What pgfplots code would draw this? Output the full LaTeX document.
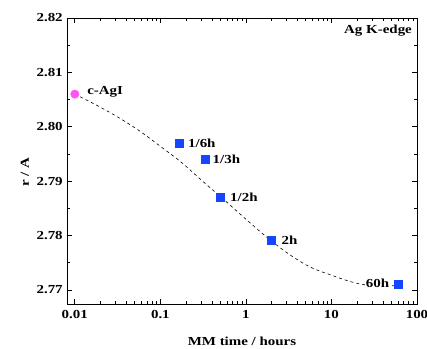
\documentclass[border=0pt]{standalone}
\usepackage{fontspec}
\setmainfont{Liberation Serif}
\usepackage{pgfplots}
\pgfplotsset{compat=1.18}
\definecolor{mblue}{RGB}{20,70,255}
\definecolor{mpink}{RGB}{255,85,240}
\newcommand{\lf}{\fontsize{12.3}{14}\selectfont\bfseries}
\begin{document}
\begin{tikzpicture}
\begin{axis}[at={(0,0)}, anchor=south west, scale only axis,
  width=350bp, height=286bp,
  xmode=log, xmin=0.0081, xmax=100, ymin=2.7674, ymax=2.82,
  xtick={0.01,0.1,1,10,100}, xticklabels={0.01,0.1,1,10,100},
  ytick={2.77,2.78,2.79,2.80,2.81,2.82}, minor y tick num=1,
  yticklabel style={/pgf/number format/fixed, /pgf/number format/precision=2, /pgf/number format/fixed zerofill},
  /pgf/number format/assume math mode=true,
  tick align=inside, major tick length=5bp, minor tick length=3bp,
  axis line style={line width=0.8pt},
  every tick/.style={line width=0.7pt, black},
  tick label style={font=\lf, xscale=1.22},
  xticklabel style={yshift=-3bp},
  xlabel={MM time / hours}, ylabel={r / A},
  label style={font=\lf, xscale=1.22},
  xlabel style={yshift=-11bp},
  ylabel style={at={(ticklabel cs:0.46)}},
  clip=false,
]
\addplot[black, line width=0.6pt, dash pattern=on 3bp off 3bp, smooth] coordinates {
(0.01,2.8060) (0.01778,2.8040) (0.03162,2.8018) (0.05623,2.7993) (0.1,2.7964)
(0.1778,2.7934) (0.3162,2.7899) (0.5623,2.7865) (1,2.7830) (1.778,2.7796)
(3.162,2.7766) (5.623,2.7742) (10,2.7727) (17.78,2.7714) (31.62,2.7707) (60,2.7708)};
\node[anchor=east, font=\lf, xscale=1.22, fill=white, inner sep=1pt] at (axis cs:60,2.7712) [xshift=-6bp] {60h};
\addplot[only marks, mark=square*, mark size=4bp, color=mblue] coordinates {
(0.1667,2.797) (0.3333,2.7941) (0.5,2.787) (2,2.7791) (60,2.771)};
\addplot[only marks, mark=*, mark size=4.2bp, color=mpink] coordinates {(0.01,2.806)};
\node[anchor=west, font=\lf, xscale=1.22, inner sep=0pt] at (axis cs:0.01,2.806) [xshift=10bp, yshift=2bp] {c-AgI};
\node[anchor=west, font=\lf, xscale=1.22, inner sep=0pt] at (axis cs:0.1667,2.797) [xshift=7bp] {1/6h};
\node[anchor=west, font=\lf, xscale=1.22, inner sep=0pt] at (axis cs:0.3333,2.7941) [xshift=6bp] {1/3h};
\node[anchor=west, font=\lf, xscale=1.22, inner sep=0pt] at (axis cs:0.5,2.787) [xshift=8bp] {1/2h};
\node[anchor=west, font=\lf, xscale=1.22, inner sep=0pt] at (axis cs:2,2.7791) [xshift=8bp] {2h};
\node[anchor=north east, font=\lf, xscale=1.22, inner sep=0pt] at (rel axis cs:1,1) [xshift=-4bp, yshift=-7bp] {Ag K-edge};
\end{axis}
\pgfresetboundingbox
\path[use as bounding box] (-67bp,-45bp) rectangle (360bp,304bp);
\end{tikzpicture}
\end{document}
